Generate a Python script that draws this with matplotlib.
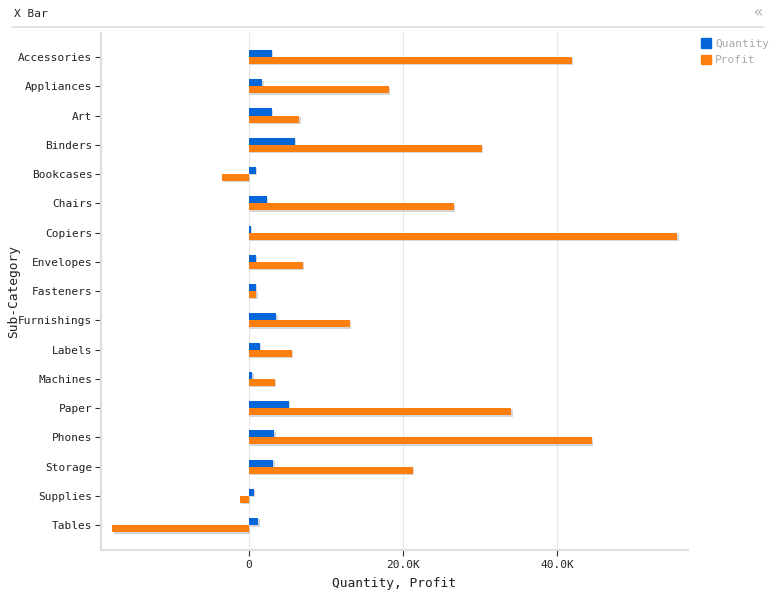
import numpy as np
import matplotlib.pyplot as plt
import matplotlib.patheffects as pe
from matplotlib.patches import Patch
from matplotlib.ticker import FuncFormatter

# datos por sub-categoria
categorias = ['Accessories', 'Appliances', 'Art', 'Binders', 'Bookcases', 'Chairs',
              'Copiers', 'Envelopes', 'Fasteners', 'Furnishings', 'Labels', 'Machines',
              'Paper', 'Phones', 'Storage', 'Supplies', 'Tables']
quantity = [2976, 1729, 3000, 5974, 868, 2356, 234, 906, 914, 3563, 1400, 440,
            5178, 3289, 3158, 647, 1241]
profit = [41936.64, 18138.01, 6527.79, 30221.76, -3472.56, 26590.17, 55617.82,
          6964.18, 949.52, 13059.14, 5546.25, 3384.76, 34053.57, 44515.73,
          21278.83, -1189.10, -17725.48]

azul = '#0566d9'
naranja = '#ff7f0e'
plt.rcParams['font.family'] = ['DejaVu Sans Mono']

fig = plt.figure(figsize=(7.76, 6), dpi=100)
ax = fig.add_axes([101/776, 50/600, 587/776, 517/600])

y = np.arange(len(categorias))
h = 0.24
sombra = [pe.SimplePatchShadow(offset=(1, -1), shadow_rgbFace='#999999', alpha=0.4), pe.Normal()]
ax.barh(y - h/2, quantity, height=h, color=azul, path_effects=sombra, zorder=3)
ax.barh(y + h/2, profit, height=h, color=naranja, path_effects=sombra, zorder=3)

ax.set_yticks(y)
ax.set_yticklabels(categorias)
ax.set_ylim(len(categorias) - 1 + 0.85, -0.82)
ax.set_xlim(-19200, 57000)
ax.set_xticks([0, 20000, 40000])
ax.xaxis.set_major_formatter(FuncFormatter(lambda v, p: '0' if v == 0 else '%.1fK' % (v/1000)))

ax.grid(axis='x', color='#e8e8e8', linewidth=0.8, zorder=0)
for s in ['top', 'right']:
    ax.spines[s].set_visible(False)
for s in ['left', 'bottom']:
    ax.spines[s].set_color('#dddddd')
    ax.spines[s].set_linewidth(1.5)
ax.tick_params(axis='both', labelsize=8, length=4, color='#333333', labelcolor='#222222')
ax.tick_params(axis='y', pad=2.2)

ax.set_xlabel('Quantity, Profit', fontsize=9.3, color='#222222')
ax.set_ylabel('Sub-Category', fontsize=9.3, color='#222222')
ax.xaxis.set_label_coords(0.5, -33/517, transform=ax.transAxes)
ax.xaxis.label.set_va('center')
ax.yaxis.set_label_coords(-87/587, 0.5, transform=ax.transAxes)
ax.yaxis.label.set_va('center')

# titulo y cabecera
fig.text(14/776, 1 - 14/600, 'X Bar', fontsize=8, va='center', ha='left', color='#222222')
fig.text(758/776, 1 - 13/600, '\u00ab', fontsize=11, va='center', ha='center', color='#aaaaaa')
fig.add_artist(plt.Line2D([12/776, 763/776], [1 - 27/600, 1 - 27/600], color='#dddddd', linewidth=1.2))

manejadores = [Patch(color=azul, label='Quantity'), Patch(color=naranja, label='Profit')]
leg = fig.legend(handles=manejadores, loc='upper left', bbox_to_anchor=(697/776, 1 - 34/600),
                 frameon=False, fontsize=8, handlelength=0.9, handleheight=0.9,
                 handletextpad=0.35, labelspacing=0.55, borderaxespad=0)
for t in leg.get_texts():
    t.set_color('#aaaaaa')

fig.savefig('out.png', dpi=100)
